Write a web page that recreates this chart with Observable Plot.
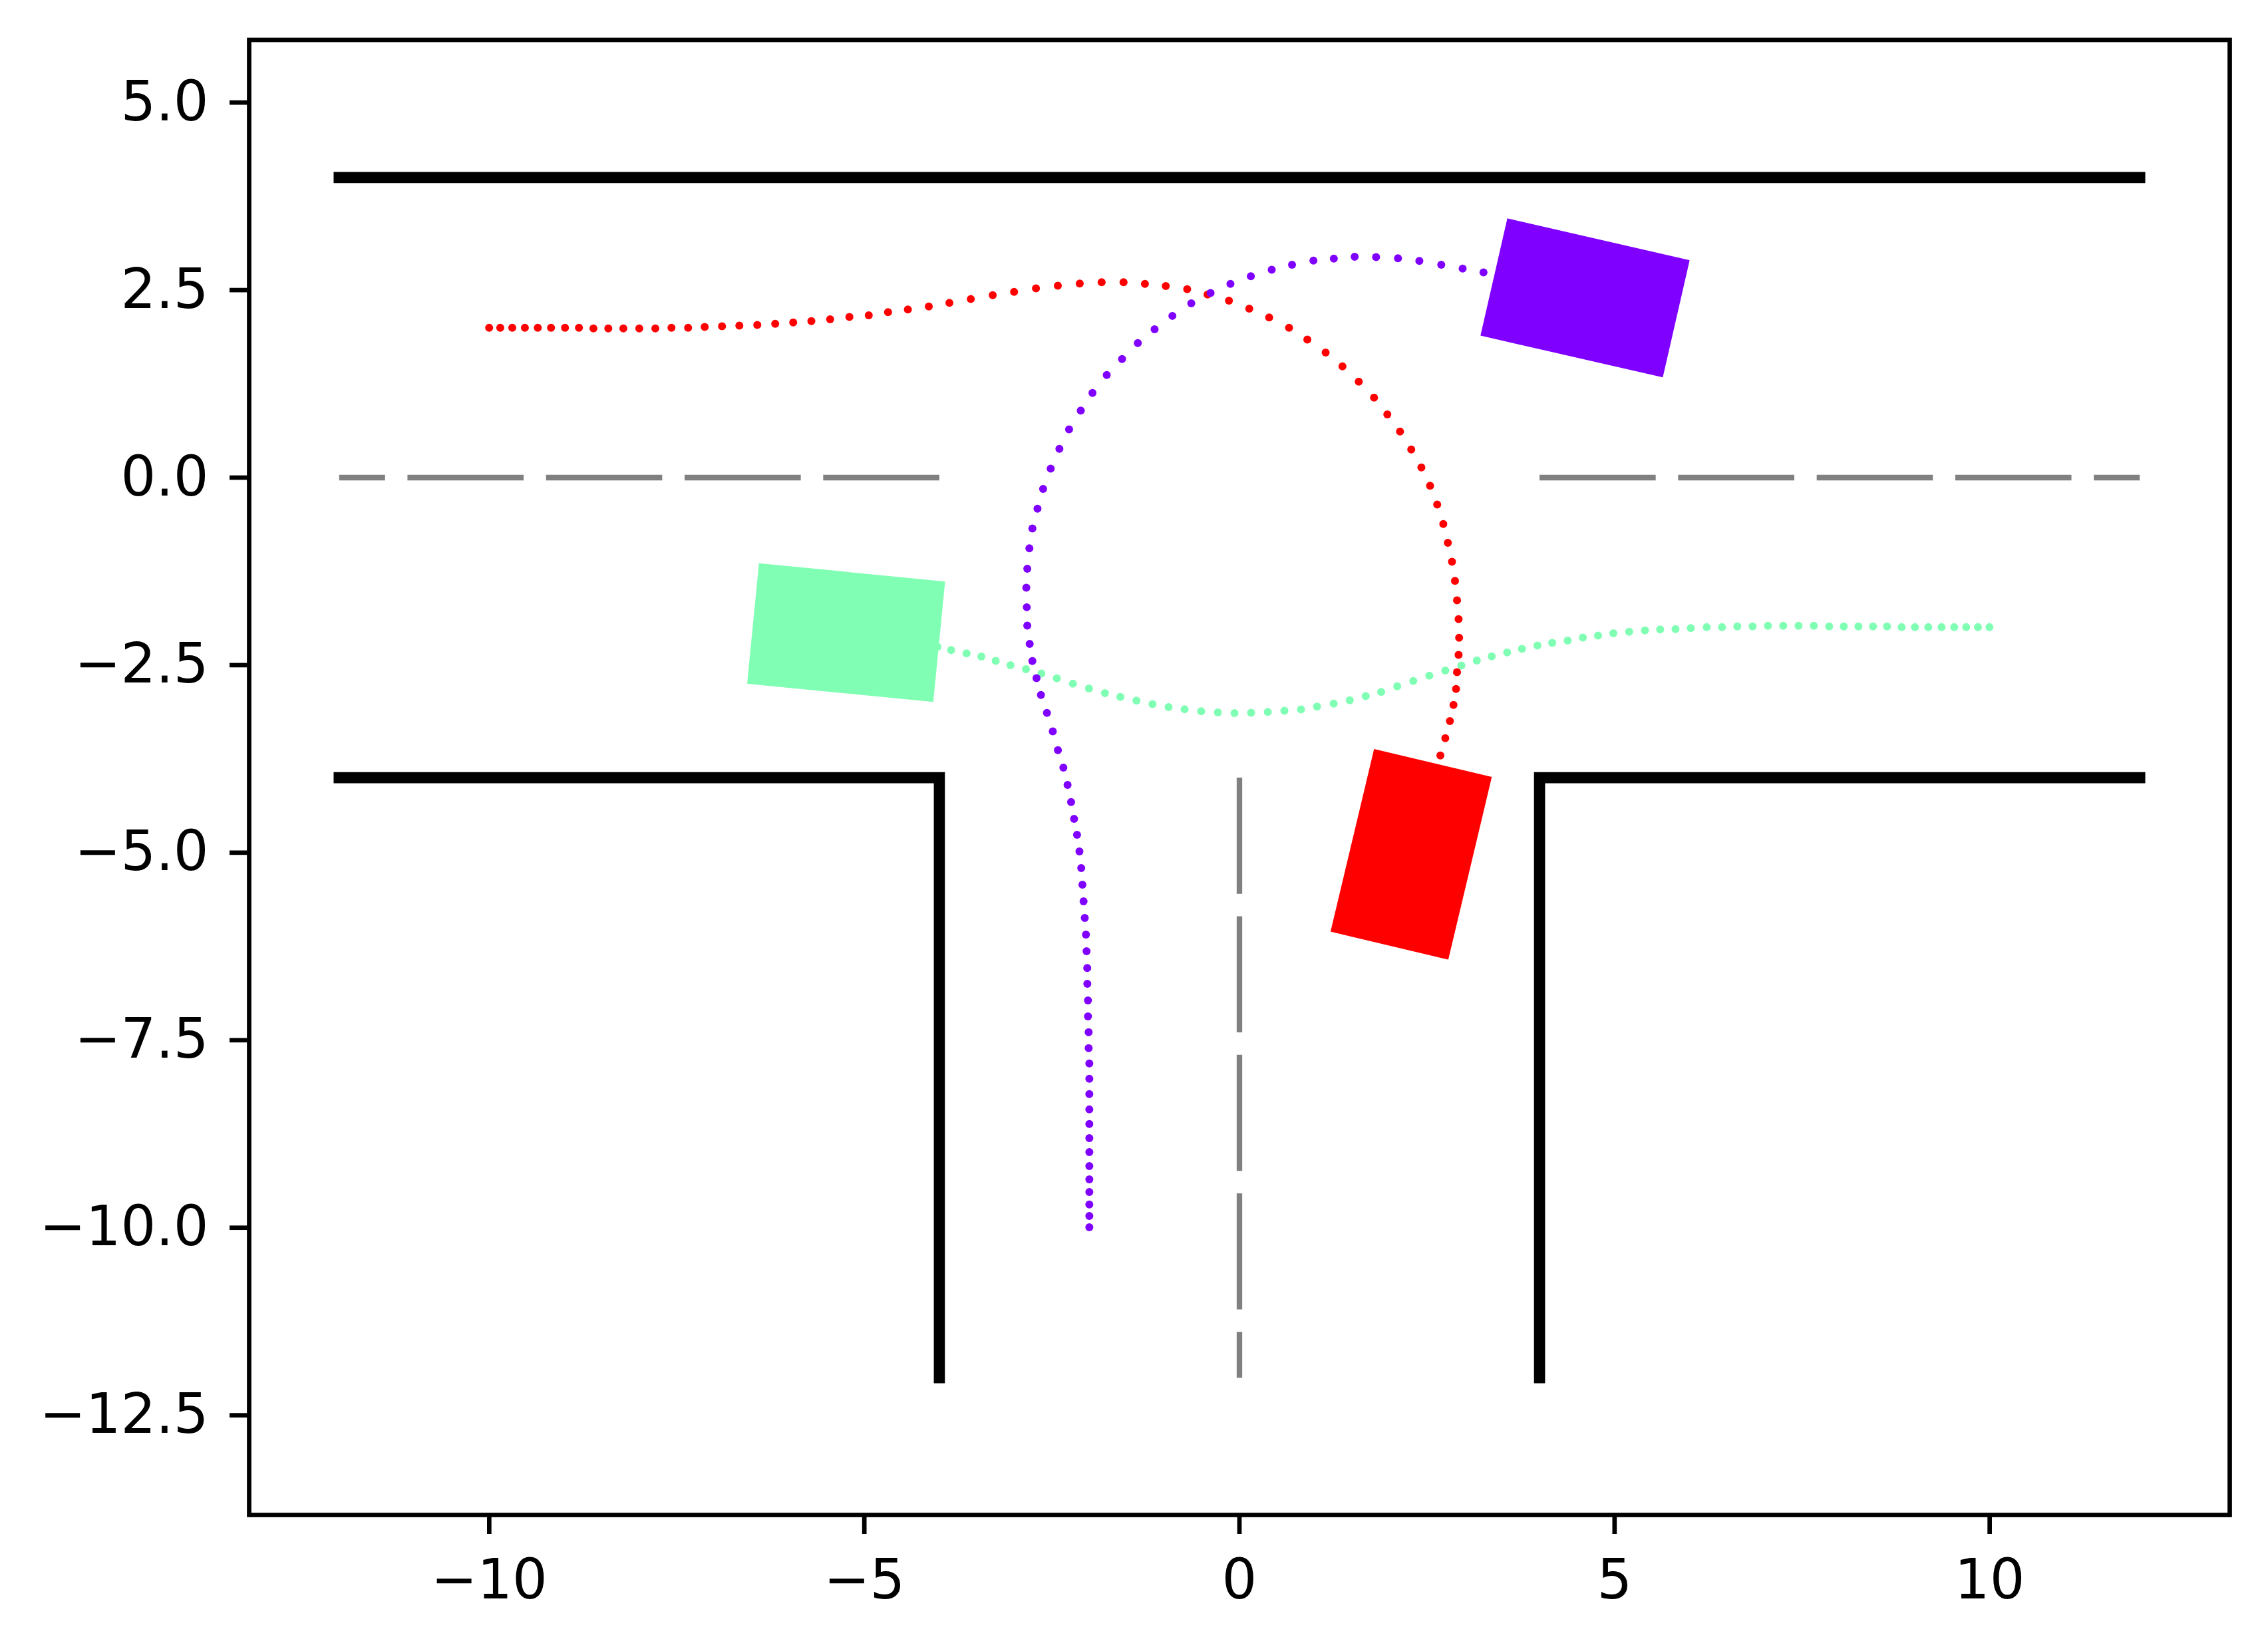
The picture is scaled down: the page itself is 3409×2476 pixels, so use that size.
<!DOCTYPE html>
<html>
<head>
<meta charset="utf-8">
<script src="https://cdn.jsdelivr.net/npm/d3@7"></script>
<script src="https://cdn.jsdelivr.net/npm/@observablehq/plot@0.6"></script>
<style>
  html, body { margin: 0; padding: 0; background: white; }
  #chart svg { display: block; }
</style>
</head>
<body>
<div id="chart"></div>
<script>
// ---------- data ----------
const xTicks = [-10, -5, 0, 5, 10];
const yTicks = [-12.5, -10, -7.5, -5, -2.5, 0, 2.5, 5];

// road boundaries (solid black)
const wallTop = [[-12, 4], [12, 4]];
const wallLeft = [[-12, -4], [-4, -4], [-4, -12]];
const wallRight = [[12, -4], [4, -4], [4, -12]];

// lane markings (grey dashed), listed in drawing direction
const laneLeft = [[-4, 0], [-12, 0]];
const laneRight = [[4, 0], [12, 0]];
const laneDown = [[0, -4], [0, -12]];

// trajectories (one dot per time step)
const redTraj = [
  [-10.001,1.997],[-9.853,1.997],[-9.693,1.997],[-9.525,1.997],[-9.353,1.997],[-9.176,1.997],
  [-8.990,1.997],[-8.804,1.997],[-8.611,1.988],[-8.413,1.988],[-8.212,1.988],[-8.000,1.988],
  [-7.786,1.988],[-7.571,1.997],[-7.349,1.997],[-7.128,2.009],[-6.897,2.018],[-6.666,2.027],
  [-6.427,2.036],[-6.188,2.051],[-5.948,2.069],[-5.706,2.087],[-5.456,2.110],[-5.199,2.141],
  [-4.941,2.164],[-4.684,2.205],[-4.420,2.241],[-4.141,2.281],[-3.866,2.329],[-3.581,2.380],
  [-3.289,2.431],[-3.004,2.476],[-2.712,2.522],[-2.421,2.558],[-2.129,2.588],[-1.837,2.604],
  [-1.545,2.604],[-1.260,2.583],[-0.982,2.553],[-0.697,2.512],[-0.425,2.441],[-0.140,2.359],
  [0.131,2.253],[0.396,2.135],[0.661,1.998],[0.905,1.840],[1.149,1.667],[1.373,1.484],
  [1.590,1.280],[1.794,1.067],[1.971,0.843],[2.140,0.614],[2.290,0.374],[2.425,0.135],
  [2.541,-0.109],[2.636,-0.359],[2.717,-0.618],[2.778,-0.868],[2.833,-1.122],[2.873,-1.377],
  [2.900,-1.636],[2.921,-1.886],[2.928,-2.135],[2.921,-2.364],[2.900,-2.593],[2.887,-2.817],
  [2.853,-3.031],[2.805,-3.245],[2.744,-3.474],[2.678,-3.704]
];

const greenTraj = [
  [9.997,-1.994],[9.844,-1.994],[9.687,-1.994],[9.527,-1.994],[9.359,-1.994],[9.181,-1.994],
  [9.004,-1.994],[8.827,-1.994],[8.632,-1.985],[8.445,-1.985],[8.250,-1.985],[8.055,-1.985],
  [7.860,-1.985],[7.656,-1.976],[7.452,-1.976],[7.248,-1.976],[7.044,-1.976],[6.840,-1.985],
  [6.636,-1.985],[6.432,-1.994],[6.228,-1.994],[6.016,-2.006],[5.812,-2.020],[5.608,-2.023],
  [5.405,-2.038],[5.194,-2.054],[4.984,-2.074],[4.780,-2.105],[4.577,-2.132],[4.375,-2.173],
  [4.169,-2.204],[3.972,-2.240],[3.766,-2.284],[3.568,-2.331],[3.362,-2.383],[3.164,-2.438],
  [2.958,-2.505],[2.744,-2.572],[2.531,-2.640],[2.317,-2.711],[2.103,-2.782],[1.889,-2.858],
  [1.683,-2.913],[1.470,-2.968],[1.256,-3.012],[1.034,-3.052],[0.820,-3.091],[0.599,-3.107],
  [0.377,-3.123],[0.155,-3.135],[-0.066,-3.139],[-0.288,-3.131],[-0.510,-3.115],[-0.731,-3.087],
  [-0.945,-3.060],[-1.159,-3.020],[-1.373,-2.972],[-1.587,-2.925],[-1.793,-2.873],[-2.006,-2.810],
  [-2.220,-2.747],[-2.434,-2.675],[-2.640,-2.612],[-2.846,-2.553],[-3.052,-2.501],[-3.249,-2.442],
  [-3.440,-2.386],[-3.638,-2.343],[-3.843,-2.299],[-4.025,-2.256]
];

const purpleTraj = [
  [-2.001,-9.993],[-2.001,-9.842],[-2.001,-9.691],[-2.001,-9.523],[-2.001,-9.355],[-2.001,-9.177],
  [-2.001,-8.991],[-2.001,-8.805],[-2.001,-8.618],[-2.001,-8.423],[-2.001,-8.219],[-2.001,-8.015],
  [-2.001,-7.811],[-2.010,-7.607],[-2.010,-7.394],[-2.019,-7.182],[-2.019,-6.969],[-2.028,-6.748],
  [-2.029,-6.538],[-2.038,-6.314],[-2.046,-6.092],[-2.062,-5.870],[-2.078,-5.648],[-2.093,-5.427],
  [-2.109,-5.205],[-2.133,-4.983],[-2.165,-4.762],[-2.204,-4.548],[-2.244,-4.326],[-2.291,-4.097],
  [-2.347,-3.867],[-2.420,-3.633],[-2.488,-3.383],[-2.566,-3.137],[-2.646,-2.898],[-2.705,-2.674],
  [-2.760,-2.446],[-2.796,-2.217],[-2.828,-1.972],[-2.835,-1.728],[-2.841,-1.468],[-2.828,-1.214],
  [-2.800,-0.943],[-2.760,-0.679],[-2.692,-0.415],[-2.617,-0.150],[-2.516,0.120],[-2.400,0.384],
  [-2.271,0.644],[-2.115,0.893],[-1.959,1.128],[-1.769,1.367],[-1.565,1.581],[-1.355,1.794],
  [-1.131,1.978],[-0.894,2.156],[-0.642,2.324],[-0.385,2.461],[-0.120,2.583],[0.152,2.685],
  [0.430,2.772],[0.701,2.838],[0.986,2.894],[1.258,2.919],[1.536,2.945],[1.821,2.940],
  [2.113,2.924],[2.398,2.889],[2.690,2.838],[2.975,2.787],[3.253,2.736]
];

// vehicles: centre, heading (degrees), size
const carNames = ["purple", "green", "red"];
const carX = [4.607, -5.243, 2.289];
const carY = [2.396, -2.066, -5.022];
const carHeading = [-12.9, 174.4, -103.4];
const carLength = [2.48, 2.48, 2.49];
const carWidth = [1.59, 1.60, 1.60];

const colors = {purple: "#8000ff", green: "#80ffb4", red: "#ff0000"};

// ---------- helpers ----------
const toPts = arr => arr.map(([x, y]) => ({x, y}));
function corners(i) {
  const h = carHeading[i] * Math.PI / 180;
  const ux = Math.cos(h), uy = Math.sin(h), vx = -uy, vy = ux;
  const l = carLength[i] / 2, w = carWidth[i] / 2;
  return [[l, w], [l, -w], [-l, -w], [-l, w], [l, w]].map(([a, b]) => ({
    x: carX[i] + a * ux + b * vx,
    y: carY[i] + a * uy + b * vy
  }));
}

const wallOpts = {x: "x", y: "y", stroke: "black", strokeWidth: 16.7, strokeLinecap: "square", strokeLinejoin: "miter", strokeMiterlimit: 4};
const laneOpts = {x: "x", y: "y", stroke: "#808080", strokeWidth: 8.3, strokeLinecap: "butt", strokeDasharray: "174.6,33.7"};
const dotOpts = c => ({x: "x", y: "y", r: 6, fill: colors[c], stroke: "none"});
const carMark = i => Plot.line(corners(i), {x: "x", y: "y", fill: colors[carNames[i]], stroke: colors[carNames[i]], strokeWidth: 1.5, strokeLinejoin: "miter", strokeMiterlimit: 4});

const chart = Plot.plot({
  width: 3409,
  height: 2476,
  marginLeft: 374,
  marginRight: 58,
  marginTop: 59.5,
  marginBottom: 199,
  style: {fontFamily: "DejaVu Sans", fontSize: "83px", background: "white", color: "black"},
  x: {domain: [-13.2, 13.2], label: null},
  y: {domain: [-13.829, 5.835], label: null},
  marks: [
    Plot.dot(toPts(redTraj), dotOpts("red")),
    Plot.dot(toPts(greenTraj), dotOpts("green")),
    Plot.dot(toPts(purpleTraj), dotOpts("purple")),
    carMark(0), carMark(1), carMark(2),
    Plot.line(toPts(wallTop), wallOpts),
    Plot.line(toPts(wallLeft), wallOpts),
    Plot.line(toPts(wallRight), wallOpts),
    Plot.line(toPts(laneLeft), laneOpts),
    Plot.line(toPts(laneRight), laneOpts),
    Plot.line(toPts(laneDown), laneOpts),
    Plot.axisX(xTicks, {label: null, tickSize: 29, tickPadding: 38, strokeWidth: 6.7, fontSize: 83, tickFormat: d3.format("d")}),
    Plot.axisY(yTicks, {label: null, tickSize: 29, tickPadding: 32, strokeWidth: 6.7, fontSize: 83, tickFormat: d3.format(".1f")}),
    Plot.frame({stroke: "black", strokeWidth: 6.7})
  ]
});
document.getElementById("chart").appendChild(chart);
</script>
</body>
</html>
